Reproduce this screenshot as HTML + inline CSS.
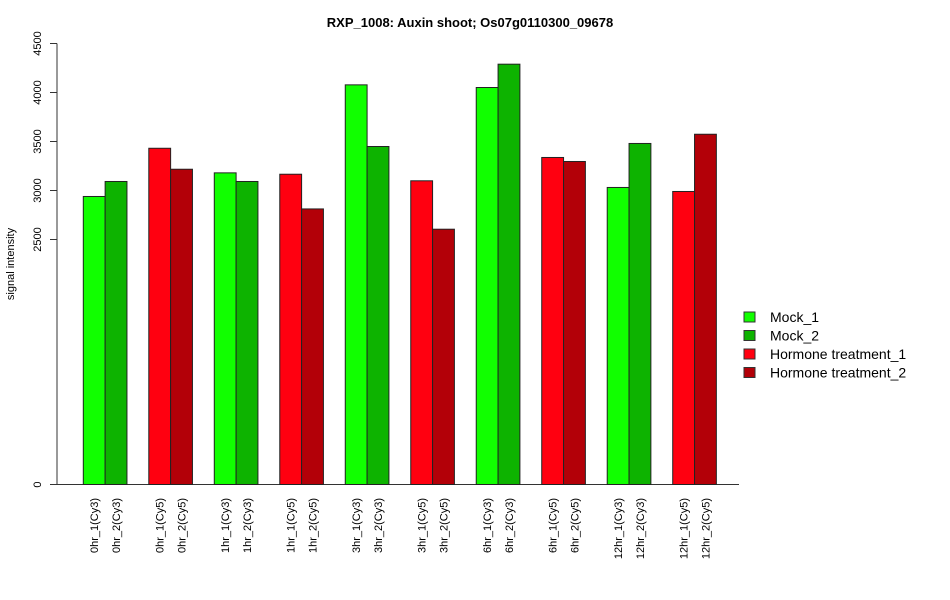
<!DOCTYPE html>
<html><head><meta charset="utf-8"><style>
body{margin:0;background:#fff;}
svg{display:block;font-family:"Liberation Sans",Arial,sans-serif;}
</style></head><body>
<svg id="chart" width="950" height="600">
<text x="470" y="27" text-anchor="middle" font-size="13" font-weight="bold">RXP_1008: Auxin shoot; Os07g0110300_09678</text>
<text transform="translate(14,264) rotate(-90)" text-anchor="middle" font-size="11">signal intensity</text>
<g id="axes"></g>
<g id="bars"></g>
<g id="legend"></g>
</svg>
<script>
const categories=["0hr_1(Cy3)","0hr_2(Cy3)","0hr_1(Cy5)","0hr_2(Cy5)","1hr_1(Cy3)","1hr_2(Cy3)","1hr_1(Cy5)","1hr_2(Cy5)","3hr_1(Cy3)","3hr_2(Cy3)","3hr_1(Cy5)","3hr_2(Cy5)","6hr_1(Cy3)","6hr_2(Cy3)","6hr_1(Cy5)","6hr_2(Cy5)","12hr_1(Cy3)","12hr_2(Cy3)","12hr_1(Cy5)","12hr_2(Cy5)"];
const values=[2939,3092,3431,3217,3180,3092,3166,2812,4078,3449,3099,2605,4051,4289,3337,3296,3031,3480,2990,3574];
const seriesIndex=[0,1,2,3,0,1,2,3,0,1,2,3,0,1,2,3,0,1,2,3];
const seriesNames=["Mock_1","Mock_2","Hormone treatment_1","Hormone treatment_2"];
const seriesColors=["#11ff00","#0db300","#ff0010","#b30008"];
const yTicks=[0,2500,3000,3500,4000,4500];

const NS="http://www.w3.org/2000/svg";
function mk(t,a,p){const e=document.createElementNS(NS,t);for(const k in a)e.setAttribute(k,a[k]);p.appendChild(e);return e;}
const y0=484.5, pxPer=0.098;
function yS(v){return y0-v*pxPer;}
const unit=21.83, x0=83.3-unit;
function xS(i){const g=Math.floor(i/2),b=i%2;return x0+unit*(1+g*3+b);}
const axes=document.getElementById('axes');
const yl=mk('line',{x1:57,x2:57,y1:yS(4500),y2:yS(0),stroke:'#333'},axes);


const xl=mk('line',{x1:50,x2:739,y1:y0,y2:y0,stroke:'#333'},axes);


yTicks.forEach(v=>{
  const tk=mk('line',{x1:50,x2:57,y1:yS(v),y2:yS(v),stroke:'#333'},axes);
  
  
  const t=mk('text',{transform:`translate(41,${yS(v)}) rotate(-90)`,'text-anchor':'middle','font-size':11},axes);
  t.textContent=v;
  
  
});
const bars=document.getElementById('bars');
values.forEach((v,i)=>{
  const x=xS(i);
  const r=mk('rect',{x:x,y:yS(v),width:unit,height:y0-yS(v),fill:seriesColors[seriesIndex[i]],stroke:'#222','stroke-width':1},bars);
  
  
  const t=mk('text',{transform:`translate(${x+unit/2+4},498) rotate(-90)`,'text-anchor':'end','font-size':11},bars);
  t.textContent=categories[i];
  
  
});
const lg=document.getElementById('legend');
seriesNames.forEach((n,i)=>{
  const y=312+i*18.5;
  const r=mk('rect',{x:744,y:y,width:11,height:10,fill:seriesColors[i],stroke:'#333'},lg);
  
  
  const t=mk('text',{x:770,y:y+10,'font-size':14},lg);
  t.textContent=n;
  
  
});
</script>
</body></html>
